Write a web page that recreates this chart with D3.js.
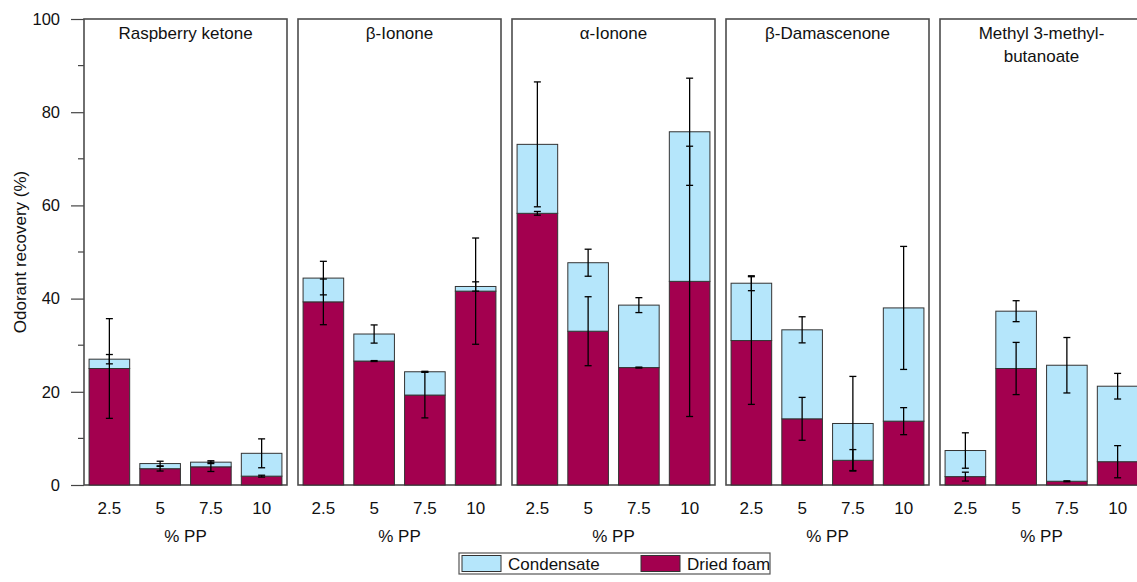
<!DOCTYPE html>
<html>
<head>
<meta charset="utf-8">
<script src="https://cdn.jsdelivr.net/npm/d3@7"></script>
<style>
  body { margin: 0; background: #fff; }
  svg text { font-family: 'Liberation Sans', Arial, sans-serif; fill: #111; }
</style>
</head>
<body>
<svg id="chart"></svg>
<script>
// compounds (one panel each), title may wrap on two lines
const compounds = ['Raspberry ketone', 'β-Ionone', 'α-Ionone', 'β-Damascenone', 'Methyl 3-methyl-butanoate'];
const titleLines = [['Raspberry ketone'], ['β-Ionone'], ['α-Ionone'], ['β-Damascenone'], ['Methyl 3-methyl-', 'butanoate']];
const ppLevels = ['2.5', '5', '7.5', '10'];
const yTicks = [0, 20, 40, 60, 80, 100];
const yMinorTicks = [10, 30, 50, 70, 90];

// odorant recovery (%) per compound, per % PP
const driedFoam = [
  [25.0, 3.5, 3.9, 1.9],
  [39.3, 26.6, 19.3, 41.6],
  [58.3, 33.0, 25.2, 43.7],
  [31.0, 14.2, 5.3, 13.7],
  [1.8, 25.0, 0.8, 5.0]
];
const condensate = [
  [2.0, 1.1, 1.0, 4.9],
  [5.1, 5.8, 5.0, 1.0],
  [14.8, 14.7, 13.4, 32.1],
  [12.3, 19.1, 7.9, 24.3],
  [5.6, 12.3, 24.9, 16.2]
];
// error bars (+/-)
const driedFoamErr = [
  [10.7, 0.5, 1.0, 0.2],
  [4.9, 0.1, 4.9, 11.4],
  [0.4, 7.4, 0.1, 29.0],
  [13.7, 4.6, 2.3, 2.9],
  [0.95, 5.6, 0.1, 3.45]
];
const condensateErr = [
  [1.0, 0.5, 0.3, 3.1],
  [3.6, 1.95, 0.1, 1.0],
  [13.4, 2.9, 1.6, 11.5],
  [1.6, 2.8, 10.1, 13.2],
  [3.8, 2.25, 5.95, 2.75]
];

const colors = { condensate: '#b5e6fb', dried: '#a3004f' };

const width = 1137, height = 582;
const svg = d3.select('#chart').attr('width', width).attr('height', height);

const y = d3.scaleLinear().domain([0, 100]).range([485, 19]);

const panelX = d3.scaleBand()
  .domain(compounds)
  .range([84, 1143])
  .paddingInner(11 / 214);

const barX = d3.scaleBand()
  .domain(ppLevels)
  .range([0, panelX.bandwidth()])
  .paddingInner(0.2)
  .paddingOuter(0.1);

// y axis
const yAxis = svg.append('g')
  .attr('transform', `translate(${panelX.range()[0]},0)`)
  .call(d3.axisLeft(y).tickValues(yTicks).tickSize(13).tickPadding(11));
yAxis.select('.domain').remove();
yAxis.selectAll('line').attr('stroke', '#444').attr('stroke-width', 1.2);
yAxis.selectAll('text').style('font-size', '16.5px');

svg.append('g')
  .selectAll('line')
  .data(yMinorTicks)
  .join('line')
  .attr('x1', panelX.range()[0] - 6)
  .attr('x2', panelX.range()[0])
  .attr('y1', d => y(d))
  .attr('y2', d => y(d))
  .attr('stroke', '#444')
  .attr('stroke-width', 1.2);

svg.append('text')
  .attr('transform', `translate(26,${(y(0) + y(100)) / 2}) rotate(-90)`)
  .attr('text-anchor', 'middle')
  .style('font-size', '17px')
  .text('Odorant recovery (%)');

function errorBar(g, cx, val, err) {
  const capW = 3.5;
  const e = g.append('g').attr('stroke', '#000').attr('stroke-width', 1.3);
  e.append('line').attr('x1', cx).attr('x2', cx).attr('y1', y(val + err)).attr('y2', y(val - err));
  e.append('line').attr('x1', cx - capW).attr('x2', cx + capW).attr('y1', y(val + err)).attr('y2', y(val + err));
  e.append('line').attr('x1', cx - capW).attr('x2', cx + capW).attr('y1', y(val - err)).attr('y2', y(val - err));
}

compounds.forEach((name, i) => {
  const g = svg.append('g').attr('transform', `translate(${panelX(name)},0)`);

  g.append('rect')
    .attr('x', 0)
    .attr('y', y(100))
    .attr('width', panelX.bandwidth())
    .attr('height', y(0) - y(100))
    .attr('fill', 'none')
    .attr('stroke', '#4d4d4d')
    .attr('stroke-width', 1.6);

  g.append('text')
    .attr('x', panelX.bandwidth() / 2)
    .attr('y', 39)
    .attr('text-anchor', 'middle')
    .style('font-size', '17px')
    .selectAll('tspan')
    .data(titleLines[i])
    .join('tspan')
    .attr('x', panelX.bandwidth() / 2)
    .attr('dy', (d, k) => k === 0 ? 0 : 23)
    .text(d => d);

  const rows = ppLevels.map((pp, j) => ({
    pp,
    dried: driedFoam[i][j],
    cond: condensate[i][j],
    driedErr: driedFoamErr[i][j],
    condErr: condensateErr[i][j]
  }));

  g.selectAll('.dried')
    .data(rows)
    .join('rect')
    .attr('class', 'dried')
    .attr('x', d => barX(d.pp))
    .attr('width', barX.bandwidth())
    .attr('y', d => y(d.dried))
    .attr('height', d => y(0) - y(d.dried))
    .attr('fill', colors.dried)
    .attr('stroke', '#333')
    .attr('stroke-width', 1);

  g.selectAll('.cond')
    .data(rows)
    .join('rect')
    .attr('class', 'cond')
    .attr('x', d => barX(d.pp))
    .attr('width', barX.bandwidth())
    .attr('y', d => y(d.dried + d.cond))
    .attr('height', d => y(d.dried) - y(d.dried + d.cond))
    .attr('fill', colors.condensate)
    .attr('stroke', '#333')
    .attr('stroke-width', 1);

  rows.forEach(d => {
    const cx = barX(d.pp) + barX.bandwidth() / 2;
    errorBar(g, cx, d.dried, d.driedErr);
    errorBar(g, cx, d.dried + d.cond, d.condErr);
  });

  const xAxis = g.append('g')
    .attr('transform', `translate(0,${y(0)})`)
    .call(d3.axisBottom(barX).tickSize(0).tickPadding(17));
  xAxis.select('.domain').remove();
  xAxis.selectAll('text').style('font-size', '17px');

  g.append('text')
    .attr('x', panelX.bandwidth() / 2)
    .attr('y', 542)
    .attr('text-anchor', 'middle')
    .style('font-size', '17px')
    .text('% PP');
});

// legend
const legend = svg.append('g').attr('transform', 'translate(459,553)');
legend.append('rect')
  .attr('width', 311).attr('height', 21)
  .attr('fill', '#fff').attr('stroke', '#555').attr('stroke-width', 1.2);

const legendItems = [
  { label: 'Condensate', color: colors.condensate, x: 3 },
  { label: 'Dried foam', color: colors.dried, x: 182 }
];
const item = legend.selectAll('.item')
  .data(legendItems)
  .join('g')
  .attr('class', 'item')
  .attr('transform', d => `translate(${d.x},2.5)`);
item.append('rect')
  .attr('width', 39).attr('height', 16)
  .attr('fill', d => d.color).attr('stroke', '#333');
item.append('text')
  .attr('x', 46).attr('y', 14)
  .style('font-size', '17px')
  .text(d => d.label);
</script>
</body>
</html>
